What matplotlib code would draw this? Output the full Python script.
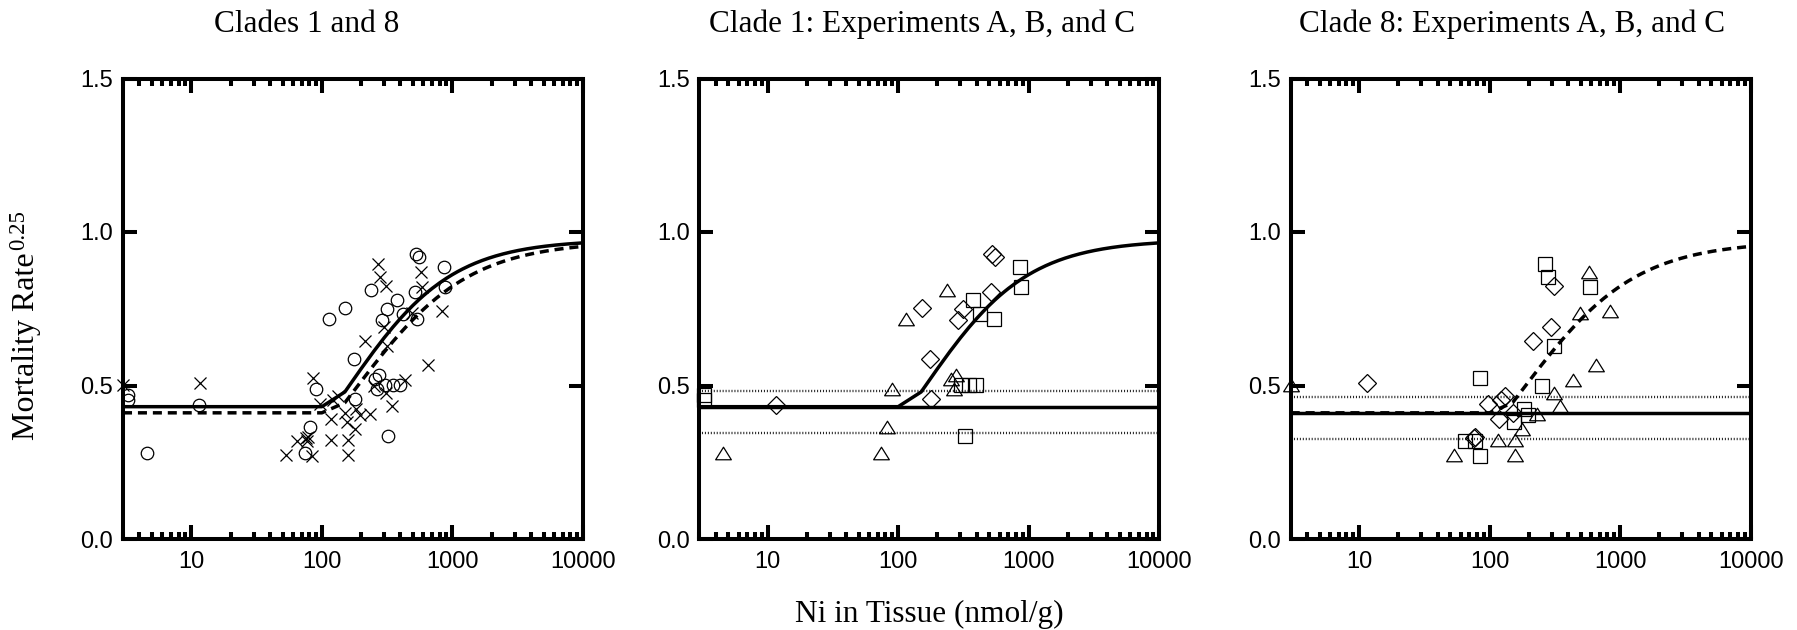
import numpy as np
import matplotlib
matplotlib.use("Agg")
import matplotlib.pyplot as plt
from matplotlib.path import Path
from matplotlib.ticker import FixedLocator, LogLocator, NullFormatter, NullLocator

plt.rcParams['font.family'] = ['Liberation Sans', 'DejaVu Sans']
SERIF = ['Liberation Serif', 'DejaVu Serif']

# ---------------- data ----------------
# Clade 1, experiments (squares / diamonds / triangles)
c1_sq_x = [3.25, 3.25, 304, 348, 396, 323, 374, 420, 540, 859, 874]
c1_sq_y = [0.469, 0.452, 0.501, 0.501, 0.501, 0.336, 0.778, 0.733, 0.716, 0.885, 0.822]
c1_di_x = [11.5, 151, 175, 180, 287, 313, 516, 522, 553]
c1_di_y = [0.436, 0.751, 0.585, 0.455, 0.713, 0.748, 0.805, 0.928, 0.919]
c1_tr_x = [4.56, 73.8, 81.5, 90, 114, 238, 255, 275, 266]
c1_tr_y = [0.279, 0.279, 0.366, 0.487, 0.715, 0.811, 0.520, 0.534, 0.487]

# Clade 8, experiments (squares / diamonds / triangles)
c8_sq_x = [268, 279, 587, 314, 85, 252, 184, 197, 155, 65, 77, 84]
c8_sq_y = [0.895, 0.852, 0.820, 0.630, 0.523, 0.500, 0.425, 0.405, 0.382, 0.320, 0.320, 0.270]
c8_di_x = [11.6, 312, 297, 215, 97, 122, 132, 118, 150, 76, 78]
c8_di_y = [0.507, 0.823, 0.690, 0.644, 0.440, 0.452, 0.465, 0.390, 0.412, 0.328, 0.332]
c8_tr_x = [3.0, 53, 117, 158, 158, 178, 232, 310, 344, 437, 490, 573, 654, 833]
c8_tr_y = [0.503, 0.272, 0.323, 0.323, 0.272, 0.357, 0.406, 0.476, 0.433, 0.518, 0.736, 0.869, 0.567, 0.742]

# control level and its band (panels 2 and 3)
c1_ctrl = 0.431
c1_band = [0.483, 0.344]
c8_ctrl = 0.410
c8_band = [0.461, 0.325]

# fitted model parameters: y = max(c, L / (1 + exp(-k (log10 x - m))))
c1_fit = dict(c=0.431, L=0.975, k=2.5, m=2.19)
c8_fit = dict(c=0.411, L=0.970, k=2.3, m=2.25)

titles = ["Clades 1 and 8", "Clade 1: Experiments A, B, and C", "Clade 8: Experiments A, B, and C"]
xtick_vals = [10, 100, 1000, 10000]
xtick_labels = ["10", "100", "1000", "10000"]
ytick_vals = [0.0, 0.5, 1.0, 1.5]
ytick_labels = ["0.0", "0.5", "1.0", "1.5"]
xlabel = "Ni in Tissue (nmol/g)"
ylabel_main = "Mortality Rate"
ylabel_sup = "0.25"


def model(x, c, L, k, m):
    x = np.asarray(x, dtype=float)
    return np.maximum(c, L / (1.0 + np.exp(-k * (np.log10(x) - m))))


xs = np.concatenate([[3.0], np.arange(50, 10001, 50)])

# ---------------- figure ----------------
W, H = 1797, 630
fig = plt.figure(figsize=(W / 100, H / 100), dpi=100)

lefts = [123, 699.3, 1290.7]
title_cx = [307, 922, 1512]
ax_w = 460
ax_bottom = 539
ax_top = 78.5

tv = [(-1, -0.8), (1, -0.8), (0, 0.8), (-1, -0.8)]
tri = Path(tv, [Path.MOVETO, Path.LINETO, Path.LINETO, Path.CLOSEPOLY])
mk = dict(linestyle='none', markerfacecolor='none', markeredgecolor='black',
          markeredgewidth=0.9, clip_on=False, zorder=3)

axes = []
for i, l in enumerate(lefts):
    ax = fig.add_axes([l / W, 1 - ax_bottom / H, ax_w / W, (ax_bottom - ax_top) / H])
    axes.append(ax)
    ax.set_xscale('log')
    ax.set_xlim(3, 10000)
    ax.set_ylim(0, 1.5)
    ax.xaxis.set_major_locator(FixedLocator(xtick_vals))
    ax.set_xticklabels(xtick_labels)
    ax.xaxis.set_minor_locator(LogLocator(base=10, subs=np.arange(2, 10)))
    ax.xaxis.set_minor_formatter(NullFormatter())
    ax.yaxis.set_major_locator(FixedLocator(ytick_vals))
    ax.set_yticklabels(ytick_labels)
    ax.yaxis.set_minor_locator(NullLocator())
    for s in ax.spines.values():
        s.set_linewidth(2.9)
    ax.tick_params(which='both', direction='in', top=True, right=True, width=2.9,
                   labelsize=17)
    ax.tick_params(which='major', length=10)
    ax.tick_params(which='minor', length=5)
    ax.tick_params(axis='x', which='major', pad=9)
    ax.tick_params(axis='y', which='major', pad=7)
    fig.text(title_cx[i] / W, 1 - 32 / H, titles[i], ha='center', va='baseline',
             fontsize=22.5, family=SERIF)

lw = 2.5
dash = (2.6, 1.7)
dot = dict(color='0.15', lw=1.7, linestyle=(0, (0.45, 0.8)), zorder=2)

# Panel 1: clade 1 (circles) and clade 8 (crosses)
ax = axes[0]
ax.plot(c1_sq_x + c1_di_x + c1_tr_x, c1_sq_y + c1_di_y + c1_tr_y, marker='o', markersize=9, **mk)
ax.plot(c8_sq_x + c8_di_x + c8_tr_x, c8_sq_y + c8_di_y + c8_tr_y, marker='x', markersize=8.6, **mk)
ax.plot(xs, model(xs, **c1_fit), color='black', lw=lw, zorder=4)
ax.plot(xs, model(xs, **c8_fit), color='black', lw=lw, linestyle=(0, dash),
        dash_capstyle='butt', zorder=4)

# Panel 2: clade 1 by experiment
ax = axes[1]
ax.plot(c1_sq_x, c1_sq_y, marker='s', markersize=9.6, **mk)
ax.plot(c1_di_x, c1_di_y, marker='D', markersize=8.7, **mk)
ax.plot(c1_tr_x, c1_tr_y, marker=tri, markersize=11.3, **mk)
for b in c1_band:
    ax.axhline(b, **dot)
ax.axhline(c1_ctrl, color='black', lw=lw, zorder=4)
ax.plot(xs, model(xs, **c1_fit), color='black', lw=lw, zorder=4)

# Panel 3: clade 8 by experiment
ax = axes[2]
ax.plot(c8_sq_x, c8_sq_y, marker='s', markersize=9.6, **mk)
ax.plot(c8_di_x, c8_di_y, marker='D', markersize=8.7, **mk)
ax.plot(c8_tr_x, c8_tr_y, marker=tri, markersize=11.3, **mk)
for b in c8_band:
    ax.axhline(b, **dot)
ax.plot(xs, model(xs, **c8_fit), color='black', lw=lw, linestyle=(0, dash),
        dash_capstyle='butt', zorder=4)
ax.axhline(c8_ctrl, color='black', lw=lw, zorder=4)

fig.text((699.3 + ax_w / 2) / W, 1 - 614 / H, xlabel, ha='center', va='center',
         fontsize=22.5, family=SERIF)

# y label: main text plus a superscript placed after it
base_x = 34.0          # baseline position (px from left)
start_y = 440.0        # where the text starts (px from top)
t_main = fig.text(base_x / W, 1 - start_y / H, ylabel_main, rotation=90,
                  rotation_mode='anchor', ha='left', va='baseline',
                  fontsize=23, family=SERIF)
fig.canvas.draw()
bb = t_main.get_window_extent()
fig.text((base_x - 10) / W, (bb.y1 + 2) / (H), ylabel_sup, rotation=90,
         rotation_mode='anchor', ha='left', va='baseline',
         fontsize=16.5, family=SERIF)

fig.savefig("out.png", dpi=100)
